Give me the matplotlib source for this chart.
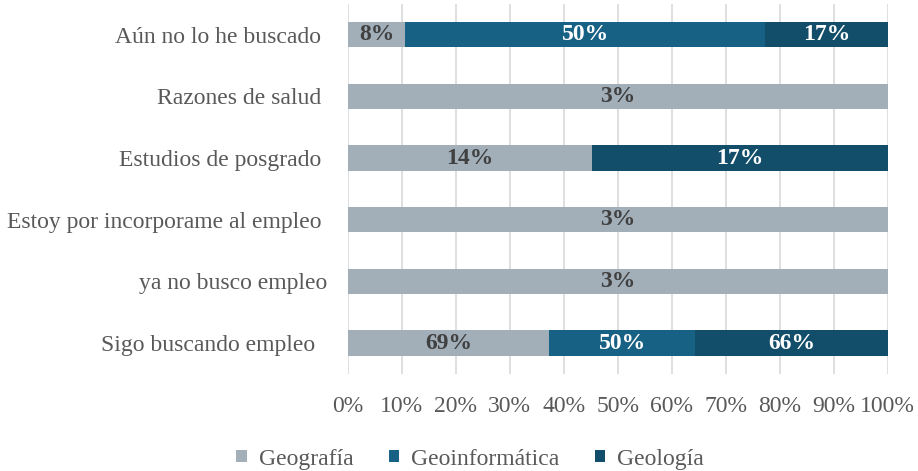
import numpy as np
import matplotlib.pyplot as plt

plt.rcParams['font.family'] = ['Liberation Serif', 'DejaVu Serif']

categorias = ['Sigo buscando empleo  ', 'ya no busco empleo', 'Estoy por incorporame al empleo ',
              'Estudios de posgrado ', 'Razones de salud ', 'Aún no lo he buscado ']
geografia = np.array([69, 3, 3, 14, 3, 8])
geoinformatica = np.array([50, 0, 0, 0, 0, 50])
geologia = np.array([66, 0, 0, 17, 0, 17])

series = [('Geografía', geografia, '#A2AFB9', '#404040'),
          ('Geoinformática', geoinformatica, '#176184', 'white'),
          ('Geología', geologia, '#124E69', 'white')]

total = geografia + geoinformatica + geologia

fig = plt.figure(figsize=(9.18, 4.71), dpi=100, facecolor='white')
ax = fig.add_axes([0.379, 0.206, 0.588, 0.786])

y = np.arange(len(categorias))
izq = np.zeros(len(categorias))
for nombre, vals, color, tcolor in series:
    frac = vals / total
    ax.barh(y, frac, left=izq, height=0.41, color=color, label=nombre, zorder=3)
    for i in range(len(y)):
        if vals[i] > 0:
            ax.text(izq[i] + frac[i] / 2, y[i], f'{vals[i]}%', ha='center', va='center',
                    fontsize=17, fontweight='bold', color=tcolor, zorder=4)
    izq = izq + frac

ax.set_xlim(0, 1)
ax.set_ylim(-0.5, len(categorias) - 0.5)
ax.set_xticks(np.arange(0, 1.01, 0.1))
ax.set_xticklabels([f'{int(round(t * 100))}%' for t in np.arange(0, 1.01, 0.1)])
ax.set_yticks(y)
ax.set_yticklabels(categorias)
ax.tick_params(axis='both', length=0, labelsize=17, labelcolor='#595959')
ax.tick_params(axis='x', pad=16)
ax.tick_params(axis='y', pad=15)
ax.grid(axis='x', color='#D9D9D9', linewidth=1.2, zorder=0)
for s in ax.spines.values():
    s.set_visible(False)

fig.legend(loc='lower center', bbox_to_anchor=(0.512, -0.042), ncol=3, frameon=False,
           fontsize=17, labelcolor='#595959', handlelength=0.45, handleheight=0.45,
           columnspacing=1.5, handletextpad=0.5)

fig.savefig('out.png', dpi=100)
